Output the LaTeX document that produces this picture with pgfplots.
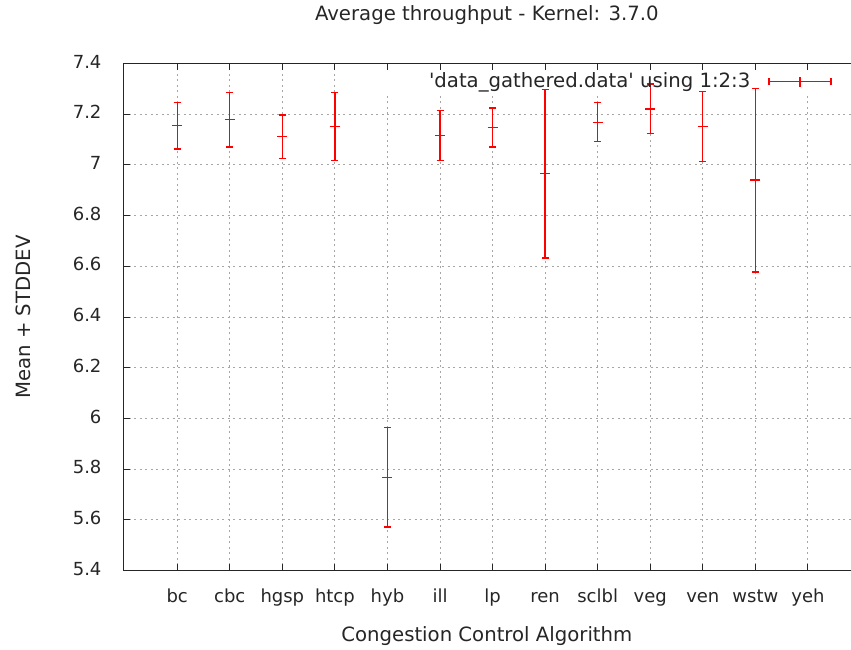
\documentclass[border=0pt]{standalone}
\usepackage{fontspec}
\setmainfont{DejaVu Sans}
\newfontfamily\rawsans{DejaVu Sans}
\usepackage{pgfplots}
\pgfplotsset{compat=1.18}
\usepackage{pgfplotstable}
% Error bars as line segments (mean -/+ stddev), categories at x = 0..11;
% each group: vertical bar, top cap, bottom cap, mean tick; nan = break.
\pgfplotstableread{
x y
0 7.063
0 7.245
0 nan
-0.0666 7.245
0.0666 7.245
0 nan
-0.0666 7.063
0.0666 7.063
0 nan
-0.095 7.154
0.095 7.154
0 nan
1 7.070
1 7.286
1 nan
0.9334 7.286
1.0666 7.286
1 nan
0.9334 7.070
1.0666 7.070
1 nan
0.905 7.178
1.095 7.178
1 nan
2 7.025
2 7.197
2 nan
1.9334 7.197
2.0666 7.197
2 nan
1.9334 7.025
2.0666 7.025
2 nan
1.905 7.111
2.095 7.111
2 nan
3 7.018
3 7.286
3 nan
2.9334 7.286
3.0666 7.286
3 nan
2.9334 7.018
3.0666 7.018
3 nan
2.905 7.152
3.095 7.152
3 nan
4 5.572
4 5.964
4 nan
3.9334 5.964
4.0666 5.964
4 nan
3.9334 5.572
4.0666 5.572
4 nan
3.905 5.768
4.095 5.768
4 nan
5 7.018
5 7.214
5 nan
4.9334 7.214
5.0666 7.214
5 nan
4.9334 7.018
5.0666 7.018
5 nan
4.905 7.116
5.095 7.116
5 nan
6 7.070
6 7.224
6 nan
5.9334 7.224
6.0666 7.224
6 nan
5.9334 7.070
6.0666 7.070
6 nan
5.905 7.147
6.095 7.147
6 nan
7 6.633
7 7.297
7 nan
6.9334 7.297
7.0666 7.297
7 nan
6.9334 6.633
7.0666 6.633
7 nan
6.905 6.965
7.095 6.965
7 nan
8 7.091
8 7.245
8 nan
7.9334 7.245
8.0666 7.245
8 nan
7.9334 7.091
8.0666 7.091
8 nan
7.905 7.168
8.095 7.168
8 nan
9 7.123
9 7.319
9 nan
8.9334 7.319
9.0666 7.319
9 nan
8.9334 7.123
9.0666 7.123
9 nan
8.905 7.221
9.095 7.221
9 nan
10 7.013
10 7.289
10 nan
9.9334 7.289
10.0666 7.289
10 nan
9.9334 7.013
10.0666 7.013
10 nan
9.905 7.151
10.095 7.151
10 nan
11 6.578
11 7.302
11 nan
10.9334 7.302
11.0666 7.302
11 nan
10.9334 6.578
11.0666 6.578
11 nan
10.905 6.940
11.095 6.940
}\segtable
\begin{document}
\fontsize{19.7}{23}\selectfont
\begin{tikzpicture}
\begin{axis}[
  scale only axis,
  width=727.7pt, height=507.5pt,
  at={(0,0)}, anchor=south west,
  xmin=-1.027, xmax=12.81,
  ymin=5.4, ymax=7.4,
  axis x line*=box, axis y line*=left,
  axis line style={black!85, line width=1pt},
  xtick={0,1,2,3,4,5,6,7,8,9,10,11,12},
  xticklabels={bc,cbc,hgsp,htcp,hyb,ill,lp,ren,sclbl,veg,ven,wstw,yeh},
  ytick={5.4,5.6,5.8,6,6.2,6.4,6.6,6.8,7,7.2,7.4},
  /pgf/number format/assume math mode=true,
  tick align=inside,
  major tick length=7pt,
  tick style={black!85, line width=1pt},
  grid=major,
  major grid style={gray!70, line width=0.9pt, dash pattern=on 2pt off 3.5pt},
  tick label style={font=\fontsize{18}{21}\selectfont, text=black!85},
  xticklabel style={anchor=base, inner sep=0pt, yshift=-32.3pt},
  yticklabel style={anchor=base east, inner sep=0pt, xshift=-21.6pt, yshift=-4.6pt},
  title={Average throughput - Kernel: 3.7.0},
  title style={at={(axis description cs:0.5,1)}, anchor=base, inner sep=0pt, yshift=36.5pt, text=black!85},
  xlabel={Congestion Control Algorithm},
  xlabel style={at={(axis description cs:0.5,0)}, anchor=base, inner sep=0pt, yshift=-70.7pt, text=black!85},
  ylabel={Mean + STDDEV},
  ylabel style={at={(axis description cs:0,0.5)}, anchor=base, inner sep=0pt, yshift=92.3pt, text=black!85},
  unbounded coords=jump,
  legend plot pos=right,
  legend style={draw=none, fill=none, inner sep=0pt, outer sep=0pt,
    at={(axis description cs:0.974,0.964)}, anchor=east,
    nodes={inner sep=0pt, text=black!85}, column sep=18pt},
  legend cell align=right,
  legend image code/.code={
    \draw[red, line width=1.3pt] (0pt,0pt) -- (62pt,0pt);
    \draw[red, line width=1.3pt] (0pt,-3.4pt) -- (0pt,3.4pt);
    \draw[red, line width=1.3pt] (31pt,-5pt) -- (31pt,5pt);
    \draw[red, line width=1.3pt] (62pt,-3.4pt) -- (62pt,3.4pt);
  },
]
\fill[white] (axis cs:3.6,7.276) rectangle (axis cs:12.81,7.3704);
\addplot[red, line width=1.3pt, mark=none] table[x=x, y=y] {\segtable};
\addlegendentry{\rawsans 'data\_gathered.data' using 1:2:3}
\end{axis}
\path (-123.3pt,-79pt) rectangle (727.7pt,571pt);
\end{tikzpicture}
\end{document}
